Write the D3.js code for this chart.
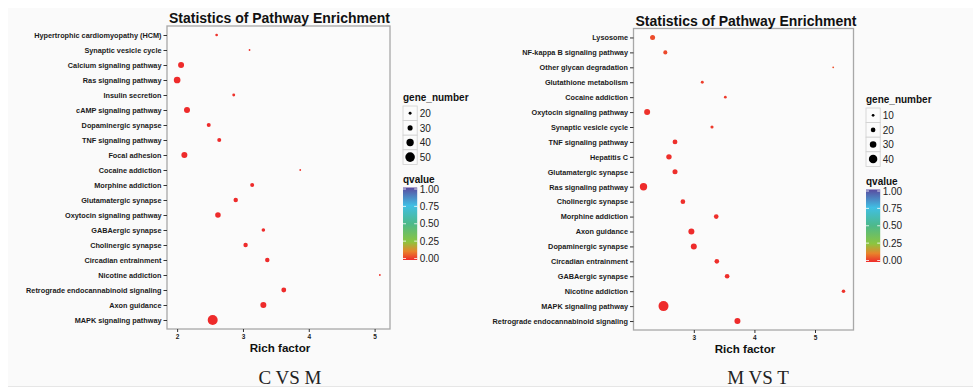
<!DOCTYPE html>
<html>
<head>
<meta charset="utf-8">
<script src="https://cdn.jsdelivr.net/npm/d3@7/dist/d3.min.js"></script>
<style>
  html, body { margin: 0; padding: 0; background: #ffffff; }
  svg { display: block; font-family: "Liberation Sans", Arial, Helvetica, sans-serif; }
</style>
</head>
<body>
<svg id="chart" width="973" height="388"></svg>
<script>
// ---------------- DATA ----------------
const leftPathways = [
  "Hypertrophic cardiomyopathy (HCM)", "Synaptic vesicle cycle", "Calcium signaling pathway",
  "Ras signaling pathway", "Insulin secretion", "cAMP signaling pathway", "Dopaminergic synapse",
  "TNF signaling pathway", "Focal adhesion", "Cocaine addiction", "Morphine addiction",
  "Glutamatergic synapse", "Oxytocin signaling pathway", "GABAergic synapse", "Cholinergic synapse",
  "Circadian entrainment", "Nicotine addiction", "Retrograde endocannabinoid signaling",
  "Axon guidance", "MAPK signaling pathway"
];
const leftRich  = [2.60, 3.10, 2.06, 2.00, 2.86, 2.15, 2.48, 2.64, 2.11, 3.87, 3.14, 2.89, 2.62, 3.31, 3.04, 3.37, 5.08, 3.62, 3.31, 2.54];
const leftGenes = [19, 15, 34, 37, 20, 34, 25, 25, 34, 15, 25, 27, 32, 23, 27, 27, 15, 29, 34, 52];
const leftQ     = [0.01, 0.01, 0.0, 0.0, 0.01, 0.0, 0.0, 0.0, 0.0, 0.01, 0.0, 0.0, 0.0, 0.0, 0.0, 0.0, 0.01, 0.0, 0.0, 0.0];

const rightPathways = [
  "Lysosome", "NF-kappa B signaling pathway", "Other glycan degradation", "Glutathione metabolism",
  "Cocaine addiction", "Oxytocin signaling pathway", "Synaptic vesicle cycle", "TNF signaling pathway",
  "Hepatitis C", "Glutamatergic synapse", "Ras signaling pathway", "Cholinergic synapse",
  "Morphine addiction", "Axon guidance", "Dopaminergic synapse", "Circadian entrainment",
  "GABAergic synapse", "Nicotine addiction", "MAPK signaling pathway", "Retrograde endocannabinoid signaling"
];
const rightRich  = [2.32, 2.53, 5.30, 3.14, 3.52, 2.23, 3.30, 2.69, 2.59, 2.69, 2.17, 2.82, 3.37, 2.96, 3.00, 3.38, 3.55, 5.47, 2.50, 3.72];
const rightGenes = [22, 17, 5, 11, 10, 27, 12, 21, 24, 22, 34, 20, 20, 27, 27, 20, 20, 14, 48, 27];
const rightQ     = [0.045, 0.04, 0.05, 0.025, 0.02, 0.01, 0.02, 0.005, 0.005, 0.005, 0.0, 0.005, 0.005, 0.0, 0.0, 0.005, 0.005, 0.01, 0.0, 0.0];

const leftSizeTicks  = [20, 30, 40, 50];
const rightSizeTicks = [10, 20, 30, 40];
const qTicks = [0, 0.25, 0.5, 0.75, 1];
const qTickLabels = ["0.00", "0.25", "0.50", "0.75", "1.00"];

const titleText = "Statistics of Pathway Enrichment";
const xAxisTitle = "Rich factor";
const sizeTitle = "gene_number";
const colorTitle = "qvalue";
const captions = ["C VS M", "M VS T"];

// ---------------- RENDER ----------------
const svg = d3.select("#chart");
const SANS = '"Liberation Sans", Arial, Helvetica, sans-serif';
const SERIF = '"Liberation Serif", "Times New Roman", Times, serif';

svg.append("rect").attr("x", 8).attr("y", 8).attr("width", 965).attr("height", 378)
  .attr("fill", "#fafafa");
svg.append("line").attr("x1", 8).attr("x2", 973).attr("y1", 386.5).attr("y2", 386.5)
  .attr("stroke", "#e6e6e6").attr("stroke-width", 1);

const gradStops = [
  [0.00, "#ee2b2b"], [0.12, "#e8842b"], [0.25, "#8cc53f"],
  [0.50, "#4db98a"], [0.75, "#40bfe4"], [1.00, "#5a4a9f"]
];
const colorScale = d3.scaleLinear()
  .domain(gradStops.map(d => d[0]))
  .range(gradStops.map(d => d[1]))
  .interpolate(d3.interpolateRgb);

const defs = svg.append("defs");
const grad = defs.append("linearGradient").attr("id", "qgrad")
  .attr("x1", "0").attr("y1", "1").attr("x2", "0").attr("y2", "0");
gradStops.forEach(s => grad.append("stop").attr("offset", s[0]).attr("stop-color", s[1]));

function drawPanel(cfg) {
  const g = svg.append("g");
  const { x0, x1, y0, y1 } = cfg;
  const data = cfg.pathways.map((p, i) => ({ p, x: cfg.rich[i], n: cfg.genes[i], q: cfg.q[i] }));

  const ext = d3.extent(cfg.rich);
  const pad = (ext[1] - ext[0]) * 0.05;
  const x = d3.scaleLinear().domain([ext[0] - pad, ext[1] + pad]).range([x0, x1]);
  const y = d3.scalePoint().domain(cfg.pathways).range([y0, y1]).padding(0.6);
  const gExt = d3.extent(cfg.genes);
  const r = d3.scaleLinear().domain(gExt).range([0.9, 5.0]);

  // panel border
  g.append("rect").attr("x", x0).attr("y", y0).attr("width", x1 - x0).attr("height", y1 - y0)
    .attr("fill", "#fbfbfb").attr("stroke", "#a8a8a8").attr("stroke-width", 1.3);

  // title
  g.append("text").attr("x", x0 + 2).attr("y", cfg.titleY)
    .attr("font-size", 14).attr("font-weight", "bold").attr("fill", "#111")
    .style("font-family", SANS)
    .text(titleText);

  // y axis
  const yAxis = d3.axisLeft(y).tickSize(3.5).tickPadding(2);
  const ya = g.append("g").attr("transform", `translate(${x0},0)`).call(yAxis);
  ya.select(".domain").remove();
  ya.selectAll(".tick line").attr("stroke", "#333").attr("stroke-width", 1);
  ya.selectAll(".tick text").attr("font-size", 7.3).attr("font-weight", "bold")
    .attr("fill", "#1a1a1a").style("font-family", SANS);

  // x axis
  const xAxis = d3.axisBottom(x).ticks(4).tickFormat(d3.format("d")).tickSize(3).tickPadding(2);
  const xa = g.append("g").attr("transform", `translate(0,${y1})`).call(xAxis);
  xa.select(".domain").remove();
  xa.selectAll(".tick line").attr("stroke", "#333");
  xa.selectAll(".tick text").attr("font-size", 6.5).attr("font-weight", "bold")
    .attr("fill", "#1a1a1a").style("font-family", SANS);

  g.append("text").attr("x", (x0 + x1) / 2 + 1.5).attr("y", y1 + 23)
    .attr("text-anchor", "middle").attr("font-size", 11.6).attr("font-weight", "bold")
    .attr("fill", "#111").style("font-family", SANS).text(xAxisTitle);

  // points
  g.selectAll("circle.pt").data(data).enter().append("circle")
    .attr("class", "pt")
    .attr("cx", d => x(d.x)).attr("cy", d => y(d.p))
    .attr("r", d => r(d.n))
    .attr("fill", d => colorScale(d.q));

  // size legend
  const lx = cfg.legX;
  g.append("text").attr("x", lx).attr("y", cfg.legY)
    .attr("font-size", 10).attr("font-weight", "bold").attr("fill", "#111")
    .style("font-family", SANS).text(sizeTitle);
  const boxH = 14.6, boxW = 14.2, by0 = cfg.legY + 5;
  cfg.sizeTicks.forEach((v, i) => {
    const by = by0 + i * boxH;
    g.append("rect").attr("x", lx).attr("y", by).attr("width", boxW).attr("height", boxH)
      .attr("fill", "#fbfbfb").attr("stroke", "#d0d0d0").attr("stroke-width", 0.8);
    g.append("circle").attr("cx", lx + boxW / 2).attr("cy", by + boxH / 2)
      .attr("r", r(v)).attr("fill", "#000");
    g.append("text").attr("x", lx + boxW + 2.5).attr("y", by + boxH / 2).attr("dy", "0.36em")
      .attr("font-size", 10).attr("fill", "#222").style("font-family", SANS).text(v);
  });

  // color legend
  const cy0 = cfg.legY + 82;
  g.append("text").attr("x", lx).attr("y", cy0)
    .attr("font-size", 10).attr("font-weight", "bold").attr("fill", "#111")
    .style("font-family", SANS).text(colorTitle);
  const barTop = cy0 + 4.5, barBot = barTop + 72.5;
  g.append("rect").attr("x", lx).attr("y", barTop).attr("width", boxW).attr("height", barBot - barTop)
    .attr("fill", "url(#qgrad)");
  const qy = d3.scaleLinear().domain([0, 1]).range([barBot - 1.5, barTop + 1.5]);
  qTicks.forEach((v, i) => {
    g.append("line").attr("x1", lx).attr("x2", lx + 3).attr("y1", qy(v)).attr("y2", qy(v))
      .attr("stroke", "#fff").attr("stroke-width", 0.8);
    g.append("line").attr("x1", lx + boxW - 3).attr("x2", lx + boxW).attr("y1", qy(v)).attr("y2", qy(v))
      .attr("stroke", "#fff").attr("stroke-width", 0.8);
    g.append("text").attr("x", lx + boxW + 2.5).attr("y", qy(v)).attr("dy", "0.36em")
      .attr("font-size", 10).attr("fill", "#222").style("font-family", SANS).text(qTickLabels[i]);
  });

  // caption
  svg.append("text").attr("x", cfg.capX).attr("y", 384)
    .attr("text-anchor", "middle").attr("font-size", 19)
    .style("font-family", SERIF)
    .attr("fill", "#222").text(cfg.caption);
}

drawPanel({
  pathways: leftPathways, rich: leftRich, genes: leftGenes, q: leftQ, sizeTicks: leftSizeTicks,
  x0: 167, x1: 390, y0: 26, y1: 329, titleY: 23, legX: 403, legY: 101, capX: 290, caption: captions[0]
});
drawPanel({
  pathways: rightPathways, rich: rightRich, genes: rightGenes, q: rightQ, sizeTicks: rightSizeTicks,
  x0: 633.5, x1: 853.5, y0: 28.5, y1: 330, titleY: 25.5, legX: 866, legY: 103, capX: 758, caption: captions[1]
});
</script>
</body>
</html>
